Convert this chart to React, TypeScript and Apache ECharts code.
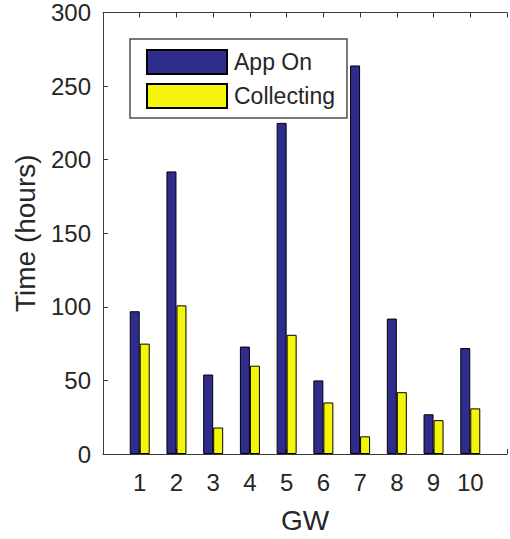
import React, { useEffect, useRef } from "react";
import * as echarts from "echarts";

const gwNumbers = [1, 2, 3, 4, 5, 6, 7, 8, 9, 10];
const appOnHours = [97, 192, 54, 73, 225, 50, 264, 92, 27, 72];
const collectingHours = [75, 101, 18, 60, 81, 35, 12, 42, 23, 31];
const yTicks = [0, 50, 100, 150, 200, 250, 300];

const FONT = "Liberation Sans";
const TXT = "#262626";
const AX = "#3a3a3a";

export default function App() {
  const ref = useRef<HTMLDivElement>(null);
  useEffect(() => {
    if (!ref.current) return;
    const chart = echarts.init(ref.current, null, { renderer: "svg" });
    const xCommon = {
      type: "value" as const,
      min: 0,
      max: 11,
      interval: 1,
      splitLine: { show: false },
      axisLine: { show: true, lineStyle: { color: AX, width: 1 } },
      axisTick: { show: true, inside: true, length: 5, lineStyle: { color: AX } },
    };
    chart.setOption({
      animation: false,
      backgroundColor: "#ffffff",
      textStyle: { fontFamily: FONT },
      grid: { left: 103, top: 12.5, right: -9, bottom: 84, containLabel: false },
      legend: {
        orient: "vertical",
        left: 130,
        top: 39,
        padding: [10, 12, 9, 16],
        itemWidth: 80,
        itemHeight: 24,
        itemGap: 8,
        borderColor: "#4d4d4d",
        borderWidth: 1.5,
        backgroundColor: "#ffffff",
        selectedMode: false,
        icon: "rect",
        textStyle: { fontFamily: FONT, fontSize: 23, color: TXT, padding: [0, 0, 0, 2] },
        data: ["App On", "Collecting"],
      },
      xAxis: [
        {
          ...xCommon,
          position: "bottom",
          name: "GW",
          nameLocation: "middle",
          nameGap: 52,
          nameTextStyle: { fontFamily: FONT, fontSize: 28, color: TXT },
          axisLabel: {
            fontFamily: FONT,
            fontSize: 24,
            color: TXT,
            margin: 16,
            formatter: (v: number) => (gwNumbers.includes(v) ? String(v) : ""),
          },
        },
        {
          ...xCommon,
          position: "top",
          axisLabel: { show: false },
        },
      ],
      yAxis: {
        type: "value",
        min: yTicks[0],
        max: yTicks[yTicks.length - 1],
        interval: 50,
        name: "Time (hours)",
        nameLocation: "middle",
        nameGap: 64,
        nameTextStyle: { fontFamily: FONT, fontSize: 28, color: TXT },
        splitLine: { show: false },
        axisLine: { show: true, lineStyle: { color: AX, width: 1 } },
        axisTick: { show: true, inside: true, length: 5, lineStyle: { color: AX } },
        axisLabel: { fontFamily: FONT, fontSize: 24, color: TXT, margin: 12 },
      },
      series: [
        {
          name: "App On",
          type: "bar",
          xAxisIndex: 0,
          barWidth: 10,
          barGap: "0%",
          itemStyle: { color: "#2E2C8C", borderColor: "#000000", borderWidth: 1 },
          data: gwNumbers.map((g, i) => [g, appOnHours[i]]),
        },
        {
          name: "Collecting",
          type: "bar",
          xAxisIndex: 0,
          barWidth: 10,
          barGap: "0%",
          itemStyle: { color: "#F5F50A", borderColor: "#000000", borderWidth: 1 },
          data: gwNumbers.map((g, i) => [g, collectingHours[i]]),
        },
      ],
    });
    return () => chart.dispose();
  }, []);
  return (
    <div
      ref={ref}
      style={{ position: "absolute", left: 0, top: 0, width: 510, height: 539 }}
    />
  );
}
